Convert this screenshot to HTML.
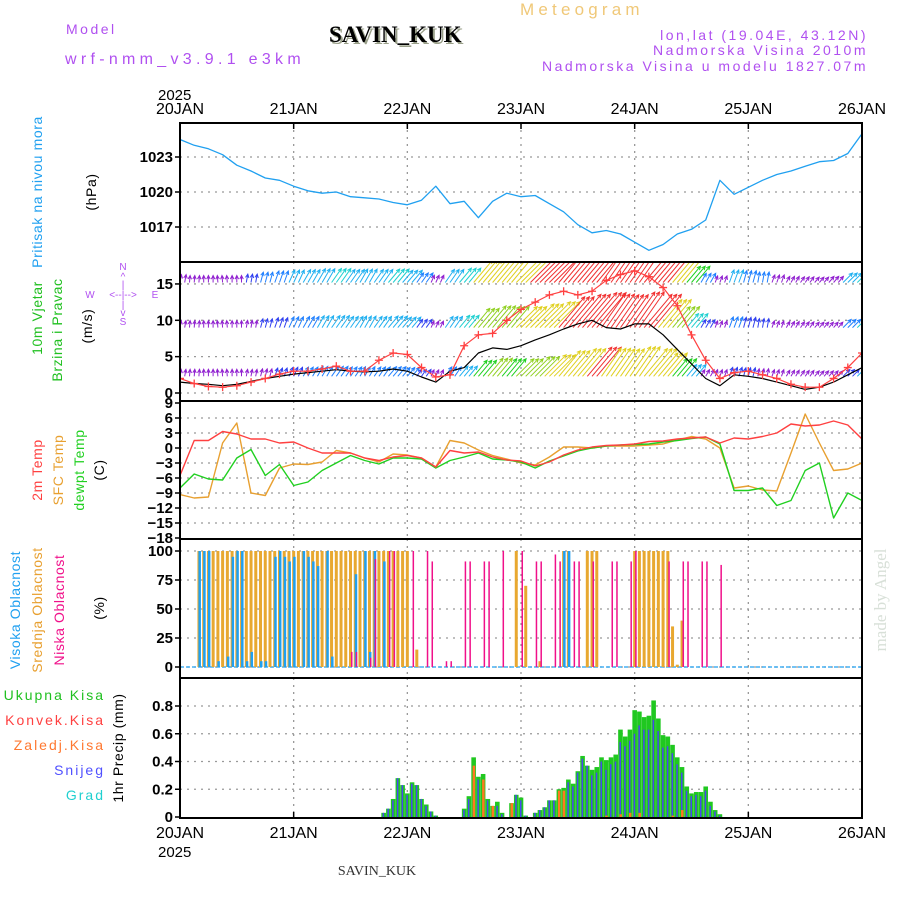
<!DOCTYPE html>
<html><head><meta charset="utf-8"><title>Meteogram SAVIN_KUK</title>
<style>
html,body{margin:0;padding:0;background:#fff;}
svg{display:block;font-family:"Liberation Sans",sans-serif;}
.tk{font-size:15px;fill:#000;}
.lab{font-size:14px;letter-spacing:0.6px;}
</style></head>
<body>
<svg id="chart" width="900" height="900" viewBox="0 0 900 900" xmlns="http://www.w3.org/2000/svg">
<defs>
<clipPath id="cP"><rect x="180" y="123" width="682" height="139"/></clipPath>
<clipPath id="cW"><rect x="180" y="262" width="682" height="139"/></clipPath>
<clipPath id="cT"><rect x="180" y="401" width="682" height="138"/></clipPath>
<clipPath id="cC"><rect x="180" y="539" width="682" height="139"/></clipPath>
<clipPath id="cR"><rect x="180" y="678" width="682" height="140"/></clipPath>
</defs>
<rect width="900" height="900" fill="#fff"/>
<!-- header -->
<text x="520" y="15" font-size="17" fill="#f0c878" letter-spacing="4.2">Meteogram</text>
<text x="66" y="34" font-size="14" fill="#b050f0" letter-spacing="2.5">Model</text>
<text x="331" y="44" font-size="23" font-weight="bold" font-family="Liberation Serif,serif" fill="#9aa08a">SAVIN_KUK</text>
<text x="329" y="42" font-size="23" font-weight="bold" font-family="Liberation Serif,serif" fill="#000">SAVIN_KUK</text>
<text x="65" y="64" font-size="16" fill="#b050f0" letter-spacing="4.3">wrf-nmm_v3.9.1 e3km</text>
<text x="868" y="40" font-size="14" fill="#b050f0" text-anchor="end" letter-spacing="2.5">lon,lat (19.04E, 43.12N)</text>
<text x="868" y="55" font-size="14" fill="#b050f0" text-anchor="end" letter-spacing="2.5">Nadmorska Visina 2010m</text>
<text x="868" y="71" font-size="14" fill="#b050f0" text-anchor="end" letter-spacing="2.5">Nadmorska Visina u modelu 1827.07m</text>
<text x="158" y="100" class="tk" font-size="16">2025</text>
<text x="158" y="857" class="tk" font-size="16">2025</text>
<text x="377" y="875" font-size="14" font-family="Liberation Serif,serif" fill="#333" text-anchor="middle">SAVIN_KUK</text>
<text transform="translate(886,600) rotate(-90)" font-size="17" font-family="Liberation Serif,serif" fill="#d8e0d8" text-anchor="middle">made by Angel</text>

<!-- left labels -->
<text transform="translate(42,192) rotate(-90)" class="lab" fill="#20a0f0" text-anchor="middle">Pritisak na nivou mora</text>
<text transform="translate(96,192) rotate(-90)" class="lab" fill="#000" text-anchor="middle">(hPa)</text>
<text transform="translate(42,318) rotate(-90)" class="lab" fill="#20c020" text-anchor="middle">10m Vjetar</text>
<text transform="translate(62,330) rotate(-90)" class="lab" fill="#20c020" text-anchor="middle">Brzina i Pravac</text>
<text transform="translate(92,326) rotate(-90)" class="lab" fill="#000" text-anchor="middle">(m/s)</text>
<g fill="#b050f0" font-size="10" text-anchor="middle">
<text x="123" y="270">N</text><text x="123" y="280">^</text><text x="123" y="288">|</text>
<text x="90" y="298">W</text><text x="123" y="298">&lt;--|--&gt;</text><text x="155" y="298">E</text>
<text x="123" y="308">|</text><text x="123" y="316">v</text><text x="123" y="325">S</text>
</g>
<text transform="translate(42,470) rotate(-90)" class="lab" fill="#ff4040" text-anchor="middle">2m Temp</text>
<text transform="translate(63,470) rotate(-90)" class="lab" fill="#e8a030" text-anchor="middle">SFC Temp</text>
<text transform="translate(84,470) rotate(-90)" class="lab" fill="#20d020" text-anchor="middle">dewpt Temp</text>
<text transform="translate(104,470) rotate(-90)" class="lab" fill="#000" text-anchor="middle">(C)</text>
<text transform="translate(20,610) rotate(-90)" class="lab" fill="#20a0f0" text-anchor="middle">Visoka Oblacnost</text>
<text transform="translate(42,610) rotate(-90)" class="lab" fill="#e8a030" text-anchor="middle">Srednja Oblacnost</text>
<text transform="translate(64,610) rotate(-90)" class="lab" fill="#f0108a" text-anchor="middle">Niska Oblacnost</text>
<text transform="translate(104,608) rotate(-90)" class="lab" fill="#000" text-anchor="middle">(%)</text>
<g font-size="14" text-anchor="end" letter-spacing="2">
<text x="105" y="700" fill="#20c020">Ukupna Kisa</text>
<text x="105" y="725" fill="#ff4040">Konvek.Kisa</text>
<text x="105" y="750" fill="#ff7830">Zaledj.Kisa</text>
<text x="105" y="775" fill="#5050ff">Snijeg</text>
<text x="105" y="800" fill="#20d0d0">Grad</text>
</g>
<text transform="translate(123,748) rotate(-90)" class="lab" fill="#000" text-anchor="middle">1hr Precip (mm)</text>
<g id="plots"></g>
</svg>
<script>
// ---- data (3-hourly, 49 points, 20JAN 00 .. 26JAN 00) ----
const dayLabels = ["20JAN","21JAN","22JAN","23JAN","24JAN","25JAN","26JAN"];
const pressureTicks = [1017,1020,1023];
const windTicks = [0,5,10,15];
const tempTicks = [9,6,3,0,-3,-6,-9,-12,-15,-18];
const cloudTicks = [0,25,50,75,100];
const precipTicks = [0,0.2,0.4,0.6,0.8];
const pressure = [1024.5,1024.0,1023.7,1023.2,1022.3,1021.8,1021.2,1021.0,1020.5,1020.1,1019.9,1020.0,1019.6,1019.5,1019.4,1019.1,1018.9,1019.3,1020.5,1019.0,1019.2,1017.8,1019.2,1019.9,1019.6,1019.7,1019.0,1018.3,1017.2,1016.5,1016.7,1016.4,1015.7,1015.0,1015.5,1016.4,1016.8,1017.6,1021.0,1019.8,1020.4,1021.0,1021.5,1021.8,1022.2,1022.6,1022.7,1023.3,1025.0];
const temp2m = [-5.5,1.5,1.5,3.3,2.8,1.8,1.8,1.0,1.2,0.0,-1.0,-1.0,-1.0,-2.0,-2.5,-1.8,-1.5,-2.0,-3.8,-0.5,-1.0,-0.8,-1.8,-2.4,-2.6,-3.6,-2.8,-1.4,-0.4,0.2,0.5,0.6,0.8,1.3,1.4,1.8,2.0,2.2,1.0,2.0,1.8,2.3,3.0,4.8,4.4,4.6,5.4,4.6,1.8];
const tempSfc = [-9.3,-10.0,-9.8,1.0,5.0,-9.0,-9.5,-4.0,-3.2,-3.3,-2.8,-0.5,-1.0,-2.0,-2.8,-1.2,-1.4,-2.0,-3.8,1.5,1.0,-0.4,-1.5,-2.2,-3.0,-3.4,-1.8,0.2,0.2,0.0,0.4,0.4,0.4,0.6,0.8,1.6,2.3,1.8,0.0,-8.0,-7.6,-8.4,-8.6,-1.0,6.8,1.0,-4.5,-4.2,-3.0];
const dewpoint = [-8.0,-5.2,-6.2,-6.4,-2.0,-0.3,-5.5,-3.3,-7.5,-6.8,-4.5,-3.0,-1.5,-2.5,-3.2,-2.0,-2.0,-2.2,-4.0,-2.5,-1.8,-1.0,-2.2,-2.4,-2.8,-4.0,-2.6,-1.6,-0.6,0.0,0.4,0.6,0.7,0.8,1.2,1.5,1.9,2.2,0.8,-8.5,-8.5,-8.0,-11.5,-10.5,-4.5,-3.0,-14.0,-9.0,-10.5];
const windSpeed = [1.5,1.3,1.2,1.0,1.2,1.6,2.0,2.3,2.6,2.8,3.0,3.2,3.0,2.9,3.0,3.3,3.0,2.2,1.5,3.0,3.5,5.5,6.2,6.0,6.5,7.3,8.0,8.8,9.5,10.0,9.0,8.8,9.5,9.5,8.0,6.0,4.0,2.0,1.0,2.5,2.3,2.0,1.5,1.0,0.5,0.8,1.5,2.5,3.5];
const windGust = [2.0,1.3,0.9,0.8,1.0,1.5,2.0,2.6,3.0,3.0,3.3,3.7,3.0,3.0,4.5,5.5,5.3,3.5,2.2,2.5,6.5,8.0,8.2,10.0,11.5,12.5,13.5,14.0,13.5,14.0,15.5,16.3,16.8,16.0,14.5,12.0,8.0,4.5,2.0,2.8,3.0,2.5,2.0,1.2,0.8,0.8,2.0,3.5,5.5];
const windDir = [10,5,0,-5,0,10,15,20,25,30,30,35,35,30,35,40,40,35,25,35,40,40,40,40,45,45,45,40,40,40,35,35,35,40,40,40,40,30,20,20,15,10,20,30,35,40,40,45,45];
// ---- hourly data (hour index 0..144) ----
const cloudMidHours = [4,5,6,7,8,9,10,11,12,13,14,15,16,17,18,19,20,21,22,23,24,25,26,27,28,29,30,31,32,33,34,35,36,37,38,39,40,41,42,43,44,45,46,47,48,50,71,73,76,81,82,86,87,88,96,97,98,99,100,101,102,103,104,105,106];
const cloudMid = [100,100,100,100,100,100,100,100,100,100,100,100,100,100,100,100,100,100,100,100,100,100,100,100,100,100,100,100,100,100,100,100,100,100,100,100,100,100,100,100,100,100,100,100,100,15,100,70,5,100,100,100,100,100,100,100,100,100,100,100,100,100,35,2,40];
const cloudHighHours = [4,5,6,8,10,11,12,13,14,15,17,18,20,21,22,23,24,26,27,28,29,31,32,37,39,40,41,43,81,82];
const cloudHigh = [100,100,100,5,9,95,100,100,5,13,5,5,95,100,95,91,95,100,95,91,87,100,9,80,100,13,100,91,100,100];
const cloudLowHours = [36,37,40,41,44,45,49,52,53,56,57,60,61,64,65,68,72,75,76,79,80,83,84,87,91,92,95,96,103,106,107,110,111,114];
const cloudLow = [13,13,8,93,100,100,100,100,91,5,5,91,91,91,91,100,100,91,91,97,91,91,91,91,91,91,91,100,91,91,91,91,91,88];
const precipHours = [43,44,45,46,47,48,49,50,51,52,53,54,60,61,62,63,64,65,66,67,68,70,71,72,73,75,76,77,78,79,80,81,82,83,84,85,86,87,88,89,90,91,92,93,94,95,96,97,98,99,100,101,102,103,104,105,106,107,108,109,110,111,112,113,114];
const precipTotal = [.03,.06,.13,.28,.23,.17,.25,.23,.13,.09,.04,.01,.06,.15,.43,.29,.31,.13,.08,.11,.03,.10,.16,.14,.01,.03,.05,.07,.12,.12,.20,.21,.27,.24,.33,.44,.37,.34,.36,.43,.41,.43,.45,.63,.58,.63,.77,.76,.72,.73,.84,.71,.59,.58,.52,.43,.36,.22,.17,.18,.18,.22,.11,.05,.02];
const precipSnow = [.03,.06,.12,.28,.23,.16,.24,.23,.13,.08,.04,.01,.05,.13,.05,.27,.03,.12,.02,.08,.02,.02,.16,.12,.01,.03,.05,.07,.12,.12,.02,.02,.25,.22,.32,.42,.37,.30,.32,.40,.34,.38,.40,.54,.51,.55,.60,.66,.63,.63,.70,.62,.50,.51,.46,.38,.32,.19,.15,.16,.15,.19,.08,.04,.01];
const precipFrozen = [0,0,0,0,0,0,0,0,0,0,0,0,0,0,.37,0,.27,0,.08,0,0,.10,0,0,0,0,0,0,0,0,.19,.19,0,0,0,0,0,0,0,0,.01,0,0,.02,0,.03,0,.03,0,0,0,0,0,0,.01,0,.05,0,0,0,0,0,0,0,0];

const NS = "http://www.w3.org/2000/svg";
const X0 = 180, X1 = 862, HOURS = 144;
function xh(h){ return X0 + (X1 - X0) * h / HOURS; }
function x3(i){ return xh(i * 3); }
function yP(p){ return 192 - (p - 1020) * 11.667; }
function yW(v){ return 393 - v * 7.27; }
function yT(t){ return 448 - t * 5; }
function yC(c){ return 667 - c * 1.16; }
function yR(r){ return 817 - r * 138.75; }
const root = document.getElementById('plots');
function mk(tag, attrs, parent){
  const e = document.createElementNS(NS, tag);
  for (const k in attrs) e.setAttribute(k, attrs[k]);
  (parent || root).appendChild(e);
  return e;
}
function group(clip, name){
  const g = mk('g', clip ? {'clip-path': 'url(#' + clip + ')'} : {});
  
  
  return g;
}
const panels = [
  {top:123, bot:262, ticks:pressureTicks, y:yP, fmt:v=>String(v), name:'pressure'},
  {top:262, bot:401, ticks:windTicks, y:yW, fmt:v=>String(v), name:'wind'},
  {top:401, bot:539, ticks:tempTicks, y:yT, fmt:v=>(v<0?'\u2212'+(-v):String(v)), name:'temperature'},
  {top:539, bot:678, ticks:cloudTicks, y:yC, fmt:v=>String(v), name:'cloud'},
  {top:678, bot:818, ticks:precipTicks, y:yR, fmt:v=>(v===0?'0':v.toFixed(1)), name:'precip'}
];
panels.forEach(p => {
  const g = group(null, p.name + '-grid');
  for (let d = 1; d < 6; d++) {
    const ln = mk('line', {x1:xh(d*24), x2:xh(d*24), y1:p.top, y2:p.bot, stroke:'#999', 'stroke-width':1.3, 'stroke-dasharray':'2,5'}, g);
    
    
  }
  p.ticks.forEach(v => {
    const y = p.y(v);
    if (y > p.top + 2 && y < p.bot - 2) {
      const ln = mk('line', {x1:X0, x2:X1, y1:y, y2:y, stroke:'#999', 'stroke-width':1.3, 'stroke-dasharray':'2,5'}, g);
      
      
    }
    mk('line', {x1:X0-5, x2:X0, y1:y, y2:y, stroke:'#000', 'stroke-width':1.5}, g);
    const t = mk('text', {x:X0-7, y:y+5, 'text-anchor':'end', 'font-size':15, 'font-weight':'bold', fill:'#000'}, g);
    
    
    t.textContent = p.fmt(v);
  });
});
dayLabels.forEach((lab, d) => {
  const x = xh(d * 24);
  const t1 = mk('text', {x:x, y:114, 'text-anchor':'middle', 'font-size':16, fill:'#000'});
  
  
  t1.textContent = lab;
  const t2 = mk('text', {x:x, y:838, 'text-anchor':'middle', 'font-size':16, fill:'#000'});
  
  
  t2.textContent = lab;
  mk('line', {x1:x, x2:x, y1:123, y2:129, stroke:'#000', 'stroke-width':1.5});
  mk('line', {x1:x, x2:x, y1:812, y2:818, stroke:'#000', 'stroke-width':1.5});
});
function polyline(arr, yf, color, g, name, w){
  const pts = arr.map((v,i) => x3(i).toFixed(1) + ',' + yf(v).toFixed(1)).join(' ');
  const pl = mk('polyline', {points:pts, fill:'none', stroke:color, 'stroke-width':w||1.4, 'stroke-linejoin':'round'}, g);
  
  
  return pl;
}
const gP = group('cP', 'pressure-series');
polyline(pressure, yP, '#20a0f0', gP, 'pressure-line', 1.3);
function speedColor(s){
  if (s < 2.2) return '#9020d0';
  if (s < 2.8) return '#3040f0';
  if (s < 3.4) return '#2080ff';
  if (s < 4.2) return '#20b0f0';
  if (s < 5) return '#20d0d0';
  if (s < 6.2) return '#20d020';
  if (s < 7.5) return '#90d020';
  if (s < 9.7) return '#e0d020';
  return '#f03030';
}
const gW = group('cW', 'wind-series');
const rowBase = [15.2, 9.0, 2.3, -5.2];
const rowFactor = [1.4, 1.2, 1.0, 0.95];
rowBase.forEach((b, r) => {
  const gr = group(null, 'wind-arrow-row');
  gW.appendChild(gr);
  windSpeed.forEach((s, i) => {
    const sv = s * rowFactor[r];
    const len = Math.max(7, sv * 3.8);
    const a = windDir[i] * Math.PI / 180;
    const col = speedColor(sv);
    [-4.7, 0, 4.7].forEach(off => {
      const x = x3(i) + off, y = yW(b);
      const tx = x + Math.sin(a) * len, ty = y - Math.cos(a) * len;
      const ar = mk('path', {d:'M'+x.toFixed(1)+','+y.toFixed(1)+'L'+tx.toFixed(1)+','+ty.toFixed(1)
        +'M'+(tx - Math.sin(a-0.45)*4).toFixed(1)+','+(ty + Math.cos(a-0.45)*4).toFixed(1)+'L'+tx.toFixed(1)+','+ty.toFixed(1)
        +'L'+(tx - Math.sin(a+0.45)*4).toFixed(1)+','+(ty + Math.cos(a+0.45)*4).toFixed(1),
        stroke:col, 'stroke-width':1, fill:'none'}, gr);
      
      
    });
  });
});
polyline(windSpeed, yW, '#000', gW, 'wind-speed-line', 1.2);
polyline(windGust, yW, '#ff4040', gW, 'wind-gust-line', 1.2);
windGust.forEach((v, i) => {
  const x = x3(i), y = yW(v);
  const m = mk('path', {d:'M'+(x-4)+','+y+'h8M'+x+','+(y-4)+'v8', stroke:'#ff4040', 'stroke-width':1.3}, gW);
  
  
});
const gT = group('cT', 'temperature-series');
polyline(tempSfc, yT, '#e8a030', gT, 'sfc-temp-line', 1.4);
polyline(dewpoint, yT, '#20d020', gT, 'dewpoint-line', 1.4);
polyline(temp2m, yT, '#ff4040', gT, 'temp-2m-line', 1.4);
const gC = group('cC', 'cloud-series');
const base = mk('line', {x1:X0, x2:X1, y1:yC(0), y2:yC(0), stroke:'#20a0f0', 'stroke-width':1.2, 'stroke-dasharray':'4,2'}, gC);


cloudMidHours.forEach((h, i) => {
  const v = cloudMid[i];
  const b = mk('rect', {x:xh(h)-1.5, y:yC(v), width:3, height:yC(0)-yC(v), fill:'#e8a830'}, gC);
  
  
});
cloudHighHours.forEach((h, i) => {
  const v = cloudHigh[i];
  const b = mk('rect', {x:xh(h)-0.5, y:yC(v), width:2.5, height:yC(0)-yC(v), fill:'#20a0f0'}, gC);
  
  
});
cloudLowHours.forEach((h, i) => {
  const v = cloudLow[i];
  const b = mk('rect', {x:xh(h)+0.5, y:yC(v), width:1.5, height:yC(0)-yC(v), fill:'#f0108a'}, gC);
  
  
});
const gR = group('cR', 'precip-series');
precipHours.forEach((h, i) => {
  const x = xh(h);
  const t = precipTotal[i], s = precipSnow[i], f = precipFrozen[i];
  const b1 = mk('rect', {x:x-2.3, y:yR(t), width:4.6, height:yR(0)-yR(t), fill:'#20c820'}, gR);
  
  
  if (s > 0) {
    const b2 = mk('rect', {x:x-1, y:yR(s), width:1.5, height:yR(0)-yR(s), fill:'#4848f0'}, gR);
    
    
  }
  if (f > 0) {
    const b3 = mk('rect', {x:x-1, y:yR(f), width:2.5, height:yR(0)-yR(f), fill:'#ff7820'}, gR);
    
    
  }
});
panels.forEach(p => {
  const r = mk('rect', {x:X0, y:p.top, width:X1-X0, height:p.bot-p.top, fill:'none', stroke:'#000', 'stroke-width':2});
  
  
});
</script>
</body></html>
